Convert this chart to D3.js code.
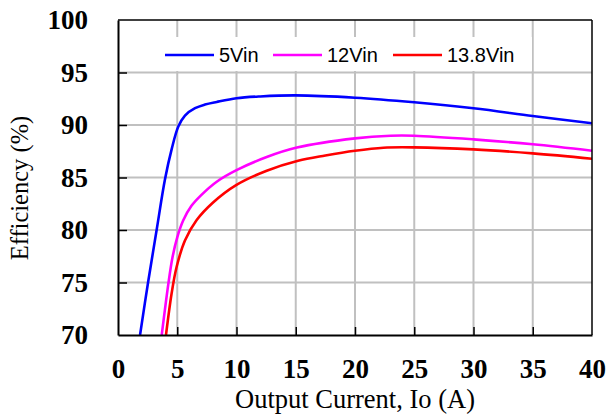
<!DOCTYPE html>
<html>
<head>
<meta charset="utf-8">
<script src="https://cdn.jsdelivr.net/npm/d3@7"></script>
<style>
  body { margin: 0; background: #fff; }
  svg { display: block; }
</style>
</head>
<body>
<div id="chart"></div>
<script>
// series data (Io in A, efficiency in %)
var io5 = [1.86, 2.55, 3.26, 3.97, 4.53, 5.09, 5.65, 6.5, 7.34, 8.33, 10, 12, 15, 20, 25, 30, 35, 40];
var eff5 = [70, 75.1, 80, 84.85, 87.7, 89.85, 90.9, 91.6, 91.95, 92.2, 92.55, 92.72, 92.82, 92.6, 92.16, 91.59, 90.86, 90.16];

var io12 = [3.69, 4.24, 4.6, 5.0, 5.5, 6.2, 7.0, 8.33, 10, 12.55, 15.1, 20, 23, 25, 30, 35, 40];
var eff12 = [70, 74.8, 77.4, 79.3, 80.9, 82.3, 83.3, 84.6, 85.7, 86.95, 87.85, 88.73, 88.98, 88.98, 88.63, 88.16, 87.55];

var io138 = [4.05, 4.53, 4.95, 5.65, 6.64, 8, 10, 12.55, 15.2, 17.5, 20, 22.4, 25, 30, 35, 40];
var eff138 = [70, 74, 76.5, 79, 80.95, 82.6, 84.3, 85.65, 86.6, 87.1, 87.55, 87.84, 87.87, 87.68, 87.3, 86.79];

var seriesNames = ["5Vin", "12Vin", "13.8Vin"];
var seriesColors = ["#0000ff", "#ff00ff", "#ff0000"];
var xTicks = [0, 5, 10, 15, 20, 25, 30, 35, 40];
var yTicks = [70, 75, 80, 85, 90, 95, 100];

var w = 607, h = 417;
// plot area (don't call these top/left, window.top is taken)
var pL = 118, pR = 592, pT = 20, pB = 335;

var svg = d3.select("#chart").append("svg")
    .attr("width", w)
    .attr("height", h);

var x = d3.scaleLinear().domain([0, 40]).range([pL, pR]);
var y = d3.scaleLinear().domain([70, 100]).range([pB, pT]);

// grid
svg.append("g")
    .selectAll("line")
    .data(xTicks.slice(1, -1))
    .enter().append("line")
    .attr("x1", function(d) { return x(d); })
    .attr("x2", function(d) { return x(d); })
    .attr("y1", pT).attr("y2", pB)
    .attr("stroke", "#c0c0c0").attr("stroke-width", 2);
svg.append("g")
    .selectAll("line")
    .data(yTicks.slice(1, -1))
    .enter().append("line")
    .attr("y1", function(d) { return y(d); })
    .attr("y2", function(d) { return y(d); })
    .attr("x1", pL).attr("x2", pR)
    .attr("stroke", "#c0c0c0").attr("stroke-width", 2);

// legend box hides grid behind it
svg.append("rect")
    .attr("x", 157).attr("y", 37)
    .attr("width", 375).attr("height", 34)
    .attr("fill", "#fff");

// curves
var data = [
  d3.zip(io5, eff5),
  d3.zip(io12, eff12),
  d3.zip(io138, eff138)
];
var line = d3.line()
    .x(function(d) { return x(d[0]); })
    .y(function(d) { return y(d[1]); })
    .curve(d3.curveCatmullRom.alpha(0.5));

svg.append("defs").append("clipPath").attr("id", "clip")
    .append("rect").attr("x", pL).attr("y", pT)
    .attr("width", pR - pL).attr("height", pB - pT);

svg.append("g").attr("clip-path", "url(#clip)")
    .selectAll("path")
    .data(data)
    .enter().append("path")
    .attr("d", line)
    .attr("fill", "none")
    .attr("stroke", function(d, i) { return seriesColors[i]; })
    .attr("stroke-width", 2.6);

// axes with inward ticks
var yAxis = d3.axisLeft(y).tickValues(yTicks).tickSizeInner(-9).tickSizeOuter(0).tickPadding(30);
var xAxis = d3.axisBottom(x).tickValues(xTicks).tickSizeInner(-8).tickSizeOuter(0).tickPadding(24);

var gy = svg.append("g").attr("transform", "translate(" + pL + ",0)").call(yAxis);
var gx = svg.append("g").attr("transform", "translate(0," + pB + ")").call(xAxis);

[gy, gx].forEach(function(g) {
  g.select(".domain").attr("stroke", "#000").attr("stroke-width", 2);
  g.selectAll(".tick line").attr("stroke", "#000").attr("stroke-width", 1.5);
  g.selectAll(".tick text")
    .attr("fill", "#000")
    .style("font-family", "'Liberation Serif', 'Times New Roman', serif")
    .style("font-weight", "bold")
    .style("font-size", "27px");
});
gx.selectAll(".tick line").filter(function(d) { return d == 0 || d == 40; }).remove();
gy.selectAll(".tick line").filter(function(d) { return d == 70 || d == 100; }).remove();

// top and right border
svg.append("line").attr("x1", pL).attr("x2", pR).attr("y1", pT).attr("y2", pT)
    .attr("stroke", "#000").attr("stroke-width", 1.5);
svg.append("line").attr("x1", pR).attr("x2", pR).attr("y1", pT).attr("y2", pB)
    .attr("stroke", "#000").attr("stroke-width", 1.5);

// legend
for (var i = 0; i < 3; i++) {
  var lx = [165, 273, 393][i];
  svg.append("line")
      .attr("x1", lx).attr("x2", lx + 49)
      .attr("y1", 55).attr("y2", 55)
      .attr("stroke", seriesColors[i]).attr("stroke-width", 2.6);
  svg.append("text")
      .text(seriesNames[i])
      .attr("x", lx + 54).attr("y", 62)
      .attr("font-family", "'Liberation Sans', Arial, sans-serif")
      .attr("font-size", "20px")
      .attr("fill", "#000");
}

// axis titles
svg.append("text")
    .text("Output Current, Io (A)")
    .attr("x", (pL + pR) / 2).attr("y", 408)
    .attr("text-anchor", "middle")
    .attr("font-family", "'Liberation Serif', 'Times New Roman', serif")
    .attr("font-size", "26.5px")
    .attr("fill", "#000");

svg.append("text")
    .text("Efficiency (%)")
    .attr("transform", "translate(28,188) rotate(-90)")
    .attr("text-anchor", "middle")
    .attr("font-family", "'Liberation Serif', 'Times New Roman', serif")
    .attr("font-size", "24.5px")
    .attr("fill", "#000");
</script>
</body>
</html>
